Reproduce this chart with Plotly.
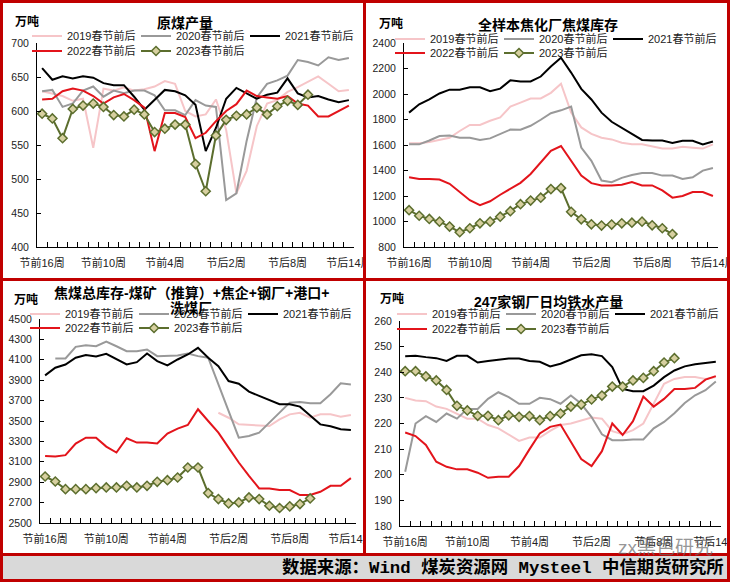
import plotly.graph_objects as go

W, H = 730, 582

# ---------------- data ----------------
cats = ["节前16周", "节前15周", "节前14周", "节前13周", "节前12周", "节前11周", "节前10周", "节前9周",
        "节前8周", "节前7周", "节前6周", "节前5周", "节前4周", "节前3周", "节前2周", "节前1周",
        "春节当周", "节后1周", "节后2周", "节后3周", "节后4周", "节后5周", "节后6周", "节后7周",
        "节后8周", "节后9周", "节后10周", "节后11周", "节后12周", "节后13周", "节后14周"]

series_names = ["2019春节前后", "2020春节前后", "2021春节前后", "2022春节前后", "2023春节前后"]

# 原煤产量
coal_2019 = [629, 626, 622, 615, 618, 546, 633, 630, 635, 630, 632, 636, 644, 640, 600, 592, 595, 617, 572, 479, 512, 578, 611, 616, 628, 635, 643, 651, 640, 629, 631]
coal_2020 = [629, 631, 606, 611, 630, 636, 621, 630, 626, 630, 630, 623, 601, 601, 594, 616, 608, 606, 469, 479, 556, 620, 640, 645, 652, 675, 672, 667, 679, 675, 678]
coal_2021 = [663, 646, 651, 648, 651, 649, 641, 638, 638, 621, 602, 616, 631, 629, 623, 609, 541, 575, 618, 634, 626, 618, 624, 627, 648, 626, 620, 622, 617, 613, 616]
coal_2022 = [617, 618, 629, 633, 630, 622, 611, 620, 625, 616, 605, 541, 597, 597, 591, 560, 568, 585, 600, 610, 630, 622, 620, 618, 622, 611, 608, 592, 592, 600, 608]
coal_2023 = [596, 589, 560, 603, 608, 611, 606, 594, 592, 602, 595, 569, 574, 580, 580, 522, 482, 564, 587, 593, 595, 605, 595, 607, 615, 609, 624, None, None, None, None]

# 全样本焦化厂焦煤库存
coke_2019 = [1613, 1613, 1623, 1639, 1657, 1710, 1757, 1757, 1790, 1816, 1901, 1932, 1965, 1965, 2009, 2081, 1854, 1738, 1687, 1657, 1644, 1618, 1605, 1605, 1587, 1572, 1572, 1587, 1579, 1572, 1605]
coke_2020 = [1605, 1605, 1635, 1670, 1675, 1657, 1657, 1639, 1652, 1688, 1721, 1720, 1751, 1798, 1849, 1872, 1901, 1580, 1476, 1321, 1308, 1342, 1365, 1381, 1381, 1360, 1360, 1334, 1347, 1399, 1419]
coke_2021 = [1854, 1919, 1957, 2004, 2034, 2034, 2053, 2053, 2022, 2042, 2107, 2099, 2099, 2137, 2215, 2284, 2168, 2040, 1957, 1854, 1782, 1735, 1690, 1640, 1635, 1635, 1615, 1633, 1633, 1605, 1628]
coke_2022 = [1347, 1334, 1334, 1329, 1296, 1231, 1167, 1128, 1159, 1210, 1257, 1303, 1373, 1468, 1554, 1592, 1476, 1360, 1301, 1283, 1283, 1288, 1309, 1283, 1283, 1244, 1187, 1200, 1231, 1231, 1200]
coke_2023 = [1089, 1045, 1020, 999, 960, 916, 947, 986, 999, 1038, 1081, 1136, 1164, 1187, 1254, 1262, 1076, 1017, 978, 968, 976, 986, 991, 999, 970, 947, 901, None, None, None, None]

# 焦煤总库存
stock_2019 = [None, None, None, None, None, None, None, None, None, None, None, None, None, None, None, None, None,
              3581, 3532, 3467, 3461, 3458, 3451, 3516, 3565, 3581, 3532, 3565, 3565, 3542, 3559]
stock_2020 = [None, 4113, 4113, 4227, 4243, 4233, 4279, 4233, 4185, 4185, 4201, 4136, 4142, 4142, 4162, 4136, 4120, 3860, 3600, 3337, 3353, 3386, 3484, 3581, 3680, 3687, 3674, 3674, 3762, 3869, 3859]
stock_2021 = [3947, 4022, 4054, 4120, 4146, 4133, 4159, 4110, 4054, 4077, 4162, 4087, 4045, 4103, 4152, 4217, 4120, 4038, 3892, 3866, 3788, 3746, 3707, 3664, 3664, 3641, 3555, 3467, 3449, 3419, 3412]
stock_2022 = [3158, 3151, 3165, 3279, 3337, 3337, 3249, 3191, 3331, 3288, 3288, 3279, 3376, 3425, 3461, 3615, 3500, 3386, 3239, 3093, 2963, 2839, 2839, 2823, 2823, 2774, 2774, 2806, 2865, 2865, 2940]
stock_2023 = [2956, 2907, 2832, 2832, 2832, 2842, 2849, 2849, 2865, 2849, 2865, 2904, 2920, 2946, 3044, 3044, 2793, 2735, 2692, 2702, 2751, 2735, 2669, 2647, 2663, 2686, 2741, None, None, None, None]

# 247家钢厂日均铁水产量
iron_2019 = [230, 229, 228.7, 226.6, 225.7, 223.8, 221.9, 221.9, 219.4, 218.1, 215.5, 213.2, 214.5, 214.5, 217.1, 219.4, 220, 221, 222.3, 221.9, 217, 215.8, 217.4, 220, 228, 235.5, 237.4, 238.1, 238.1, 237.4, 238.1]
iron_2020 = [201.2, 220, 222.9, 220.6, 223.9, 221.9, 225.7, 225.7, 229.6, 232.2, 230.3, 227.7, 227.7, 230, 229.5, 227.7, 230.9, 227.7, 222.5, 215.8, 213.5, 213.5, 213.8, 213.8, 218.1, 220.6, 224, 228, 231, 233, 236.4]
iron_2021 = [246.2, 246.4, 245.9, 245.5, 244.4, 246.4, 246.4, 243.8, 244.4, 244.9, 245.4, 245.4, 244.4, 244.1, 242.3, 243.3, 244.9, 246.6, 247.0, 246.3, 242.0, 233.5, 232.6, 232.6, 234.8, 238.1, 240.7, 242.3, 243.1, 243.6, 244.1]
iron_2022 = [216.5, 215.1, 211.6, 205.1, 203.1, 202.1, 202.1, 200.8, 198.8, 199.2, 199.2, 203.4, 209.9, 216.1, 218.7, 219.6, 212.9, 206.1, 203.4, 209.2, 220, 215.5, 220.9, 230.5, 226.6, 229.6, 233.5, 233.5, 233.9, 237.1, 238.5]
iron_2023 = [240.4, 240.4, 238.4, 236.8, 233.1, 226.9, 225.1, 223, 223, 221.3, 223.2, 222.6, 222.9, 221.3, 222.9, 223.9, 226.6, 227.4, 229.4, 230.9, 234.4, 234.4, 236.8, 237.8, 240.4, 243.8, 245.5, None, None, None, None]

titles = ["原煤产量", "全样本焦化厂焦煤库存", "焦煤总库存-煤矿（推算）+焦企+钢厂+港口+", "247家钢厂日均铁水产量"]
unit = "万吨"
source_text = "数据来源：Wind 煤炭资源网 Mysteel 中信期货研究所"
watermark = "zx黑色研究"

# ---------------- styling ----------------
RED = "#C00000"
CJK = "Arial, 'Noto Sans CJK SC', sans-serif"
line_styles = [
    dict(color="#F6C5C8", width=2),
    dict(color="#999999", width=2),
    dict(color="#000000", width=2),
    dict(color="#E3141B", width=2),
    dict(color="#5C6E2E", width=2),
]
marker_2023 = dict(symbol="diamond", size=7, color="#D7D0A0", line=dict(color="#5C6E2E", width=1.5))


def px_x(p):
    return p / W


def px_y(p):
    return 1 - p / H


# panel geometry (pixels): x0, x1, ytop, ybottom
panels = [
    dict(x0=37, x1=354, yt=43, yb=247, rng=[400, 700], dtick=50),
    dict(x0=404, x1=718, yt=43, yb=247, rng=[800, 2400], dtick=200),
    dict(x0=40, x1=356, yt=319, yb=523, rng=[2500, 4500], dtick=200),
    dict(x0=400, x1=721, yt=321, yb=526, rng=[180, 260], dtick=10),
]
panel_data = [
    [coal_2019, coal_2020, coal_2021, coal_2022, coal_2023],
    [coke_2019, coke_2020, coke_2021, coke_2022, coke_2023],
    [stock_2019, stock_2020, stock_2021, stock_2022, stock_2023],
    [iron_2019, iron_2020, iron_2021, iron_2022, iron_2023],
]
# legend origins (px) and row centers
legend_pos = [
    dict(x=27, y1=36, y2=51),
    dict(x=390, y1=39, y2=53),
    dict(x=25, y1=314, y2=328),
    dict(x=392, y1=314, y2=329),
]

fig = go.Figure()
layout = dict(
    width=W, height=H,
    margin=dict(l=0, r=0, t=0, b=0, pad=0, autoexpand=False),
    paper_bgcolor="white", plot_bgcolor="rgba(0,0,0,0)",
    showlegend=True,
    font=dict(family=CJK, color="#222"),
)

for k, (p, data) in enumerate(zip(panels, panel_data)):
    n = k + 1
    xa = "x" if n == 1 else f"x{n}"
    ya = "y" if n == 1 else f"y{n}"
    leg_a = "legend" if k == 0 else f"legend{2 * k + 1}"
    leg_b = f"legend{2 * k + 2}"
    for j, (vals, name) in enumerate(zip(data, series_names)):
        tr = dict(x=cats, y=vals, name=name, xaxis=xa, yaxis=ya,
                  line=line_styles[j], legend=leg_a if j < 3 else leg_b,
                  hoverinfo="skip", connectgaps=False)
        if j == 4:
            tr.update(mode="lines+markers", marker=marker_2023)
        else:
            tr.update(mode="lines")
        fig.add_trace(go.Scatter(**tr))

    layout["xaxis" if n == 1 else f"xaxis{n}"] = dict(
        domain=[px_x(p["x0"]), px_x(p["x1"])], anchor=ya, automargin=False,
        type="category", categoryorder="array", categoryarray=cats,
        range=[-0.5, len(cats) - 0.5],
        tickmode="linear", tick0=0, dtick=1, ticklabelstep=6,
        tickson="boundaries", ticks="inside", ticklen=5, tickcolor="black", tickwidth=1,
        showline=True, linecolor="black", linewidth=1,
        showgrid=False, zeroline=False, tickangle=0, ticklabelstandoff=6,
        tickfont=dict(size=11, family=CJK, color="#222"),
    )
    layout["yaxis" if n == 1 else f"yaxis{n}"] = dict(
        domain=[px_y(p["yb"]), px_y(p["yt"])], anchor=xa, automargin=False,
        range=p["rng"], dtick=p["dtick"], tick0=p["rng"][0],
        ticks="inside", ticklen=4, tickcolor="black", tickwidth=1,
        showline=True, linecolor="black", linewidth=1,
        showgrid=False, zeroline=False, ticklabelstandoff=5,
        tickfont=dict(size=10.5, family="Arial", color="#222"),
    )
    lp = legend_pos[k]
    for key, yy in ((leg_a, lp["y1"]), (leg_b, lp["y2"])):
        layout[key] = dict(
            x=px_x(lp["x"]), y=px_y(yy), xanchor="left", yanchor="middle",
            xref="paper", yref="paper",
            orientation="h", bgcolor="rgba(0,0,0,0)", borderwidth=0,
            entrywidth=64, entrywidthmode="pixels", itemwidth=30,
            tracegroupgap=0, font=dict(size=11, family=CJK, color="#222"),
        )

fig.update_layout(**layout)

# ---------------- annotations ----------------
ann = []
def add_text(text, x, y, size, bold=False, anchor="left", family=CJK, color="#000"):
    ann.append(dict(text=f"<b>{text}</b>" if bold else text, x=px_x(x), y=px_y(y),
                    xref="paper", yref="paper", xanchor=anchor, yanchor="middle",
                    showarrow=False, font=dict(size=size, family=family, color=color)))

add_text(titles[0], 185, 23, 14, True, "center")
add_text(titles[1], 548, 25, 14, True, "center")
add_text(titles[2], 192, 293, 14, True, "center")
add_text("洗煤厂", 191, 308, 14, True, "center")
add_text(titles[3], 548, 302, 14, True, "center")
add_text(unit, 13, 22, 12, True)
add_text(unit, 377, 24, 12, True)
add_text(unit, 12, 300, 12, True)
add_text(unit, 378, 298, 12, True)
add_text(source_text, 726, 567, 17.4, True, "right", family="'Liberation Mono', 'Noto Sans CJK SC', monospace")
add_text(watermark, 616, 547, 19, False, "left", color="rgba(105,105,105,0.7)")

# ---------------- frame shapes ----------------
shapes = []
def rect(x0, y0, x1, y1, color, layer="above"):
    shapes.append(dict(type="rect", xref="paper", yref="paper",
                       x0=px_x(x0), x1=px_x(x1), y0=px_y(y1), y1=px_y(y0),
                       fillcolor=color, line=dict(width=0), layer=layer))

rect(3, 556, 727, 579, "#D9D9D9", layer="below")
# panel clipping of the overflowing last tick label
rect(366, 252, 379, 272, "white")
rect(366, 530, 379, 550, "white")
rect(0, 0, 3, 582, RED)
rect(727, 0, 730, 582, RED)
rect(0, 0, 730, 3, RED)
rect(0, 579, 730, 582, RED)
rect(363, 0, 366, 555, RED)
rect(0, 278, 730, 281, RED)
rect(0, 553, 730, 556, RED)

fig.update_layout(annotations=ann, shapes=shapes)
fig.write_html("out.html")
